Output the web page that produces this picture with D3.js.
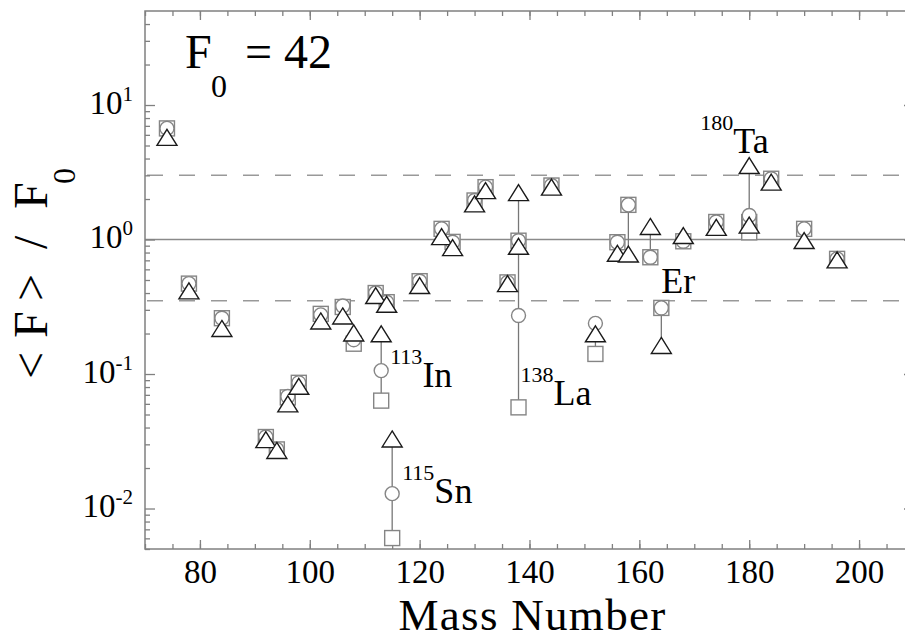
<!DOCTYPE html>
<html>
<head>
<meta charset="utf-8">
<script src="https://cdn.jsdelivr.net/npm/d3@7"></script>
<style>
  html, body { margin: 0; padding: 0; background: #fff; }
  svg { display: block; }
  text { font-family: "Liberation Serif", "Times New Roman", serif; fill: #000; }
</style>
</head>
<body>
<script>
// Abundance ratios per p-nucleus, three model sets
const masses = [74, 78, 84, 92, 94, 96, 98, 102, 106, 108, 112, 113, 114, 115, 120, 124, 126, 130, 132, 136, 138, 138, 144, 152, 156, 158, 162, 164, 168, 174, 180, 180, 184, 190, 196];
const nuclides = ["74Se", "78Kr", "84Sr", "92Mo", "94Mo", "96Ru", "98Ru", "102Pd", "106Cd", "108Cd", "112Sn", "113In", "114Sn", "115Sn", "120Te", "124Xe", "126Xe", "130Ba", "132Ba", "136Ce", "138Ce", "138La", "144Sm", "152Gd", "156Dy", "158Dy", "162Er", "164Er", "168Yb", "174Hf", "180W", "180Ta", "184Os", "190Pt", "196Hg"];
const squareVals = [6.7, 0.47, 0.26, 0.034, 0.0275, 0.067, 0.086, 0.28, 0.315, 0.168, 0.40, 0.0634, 0.342, 0.00603, 0.49, 1.2, 0.96, 1.95, 2.45, 0.48, 0.98, 0.0565, 2.52, 0.141, 0.955, 1.81, 0.738, 0.31, 0.97, 1.35, 1.35, 1.13, 2.83, 1.2, 0.718];
const circleVals = [6.7, 0.47, 0.26, 0.034, 0.0275, 0.068, 0.086, 0.275, 0.32, 0.18, 0.40, 0.106, 0.342, 0.0129, 0.49, 1.2, 0.955, 1.95, 2.45, 0.48, 0.98, 0.272, 2.52, 0.238, 0.955, 1.81, 0.738, 0.31, 0.97, 1.35, 1.35, 1.51, 2.83, 1.2, 0.718];
const triangleVals = [5.75, 0.415, 0.218, 0.0325, 0.027, 0.060, 0.081, 0.248, 0.27, 0.202, 0.383, 0.199, 0.33, 0.0329, 0.455, 1.05, 0.87, 1.84, 2.31, 0.47, 0.89, 2.23, 2.45, 0.199, 0.79, 0.78, 1.25, 0.163, 1.07, 1.23, 1.28, 3.55, 2.67, 0.983, 0.706];

// Nuclides whose three values are joined by a vertical line
const linked = ["113In", "115Sn", "138La", "152Gd", "158Dy", "162Er", "164Er", "180Ta"];

// Annotated nuclides: mass-number superscript and element symbol
const labelNuclides = ["113In", "115Sn", "138La", "164Er", "180Ta"];
const labelSuper = ["113", "115", "138", "", "180"];
const labelSymbol = ["In", "Sn", "La", "Er", "Ta"];

// Axis ticks
const xMajorTicks = [80, 100, 120, 140, 160, 180, 200];
const xMinorTicks = d3.range(70, 211, 5);
const yExponents = [-2, -1, 0, 1];
const refSolid = 1;
const refDashed = [3, 0.35];
const f0Value = "42";

const W = 905, H = 640;
const pL = 145, pR = 914, pT = 11, pB = 549;

const svg = d3.select("body").append("svg").attr("width", W).attr("height", H);

const x = d3.scaleLinear().domain([70, 210]).range([pL, pR]);
const y = d3.scaleLog().domain([0.005, 50]).range([pB, pT]);

const yMinor = [];
[0.001, 0.01, 0.1, 1, 10].forEach(dec => {
  for (let k = 2; k <= 9; k++) {
    const v = dec * k;
    if (v > 0.005 - 1e-9 && v < 50 - 1e-9) yMinor.push(v);
  }
});
const yMajor = yExponents.map(e => Math.pow(10, e));

const axisColor = "#808080";

// Reference lines
svg.append("line")
  .attr("x1", pL).attr("x2", pR)
  .attr("y1", y(refSolid)).attr("y2", y(refSolid))
  .attr("stroke", "#8a8a8a").attr("stroke-width", 1.5);
svg.selectAll("line.dash").data(refDashed).enter().append("line")
  .attr("class", "dash")
  .attr("x1", pL + 2).attr("x2", pR)
  .attr("y1", d => y(d)).attr("y2", d => y(d))
  .attr("stroke", "#999").attr("stroke-width", 1.5)
  .attr("stroke-dasharray", "16,16");

// Axes with inward ticks
function styleAxis(g) {
  g.select(".domain").remove();
  g.selectAll(".tick line").attr("stroke", axisColor).attr("stroke-width", 1.3);
}
svg.append("g").attr("transform", `translate(0,${pB})`)
  .call(d3.axisBottom(x).tickValues(xMinorTicks).tickSize(-5).tickFormat(""))
  .call(styleAxis);
svg.append("g").attr("transform", `translate(0,${pT})`)
  .call(d3.axisTop(x).tickValues(xMinorTicks).tickSize(-5).tickFormat(""))
  .call(styleAxis);
const xb = svg.append("g").attr("transform", `translate(0,${pB})`)
  .call(d3.axisBottom(x).tickValues(xMajorTicks).tickSize(-9).tickFormat(d3.format("d")))
  .call(styleAxis);
xb.selectAll(".tick text")
  .attr("y", 34).attr("dy", null)
  .attr("font-family", "Liberation Serif, serif")
  .attr("font-size", 33).attr("fill", "#000");
svg.append("g").attr("transform", `translate(0,${pT})`)
  .call(d3.axisTop(x).tickValues(xMajorTicks).tickSize(-9).tickFormat(""))
  .call(styleAxis);

svg.append("g").attr("transform", `translate(${pL},0)`)
  .call(d3.axisLeft(y).tickValues(yMinor).tickSize(-5).tickFormat(""))
  .call(styleAxis);
svg.append("g").attr("transform", `translate(${pR},0)`)
  .call(d3.axisRight(y).tickValues(yMinor).tickSize(-5).tickFormat(""))
  .call(styleAxis);
const yl = svg.append("g").attr("transform", `translate(${pL},0)`)
  .call(d3.axisLeft(y).tickValues(yMajor).tickSize(-10).tickFormat(""))
  .call(styleAxis);
svg.append("g").attr("transform", `translate(${pR},0)`)
  .call(d3.axisRight(y).tickValues(yMajor).tickSize(-10).tickFormat(""))
  .call(styleAxis);

// Decade labels 10^n
yl.selectAll(".tick").each(function(d) {
  const e = Math.round(Math.log10(d));
  const t = d3.select(this).append("text")
    .attr("x", -12).attr("y", 8)
    .attr("text-anchor", "end")
    .attr("font-family", "Liberation Serif, serif")
    .attr("fill", "#000");
  t.append("tspan").attr("font-size", 33).text("10");
  t.append("tspan").attr("font-size", 21).attr("dy", -13).text(String(e));
});

// Frame
svg.append("rect")
  .attr("x", pL).attr("y", pT)
  .attr("width", pR - pL).attr("height", pB - pT)
  .attr("fill", "none").attr("stroke", axisColor).attr("stroke-width", 1.5);

// Vertical links between model values of the same nuclide
const rows = masses.map((m, i) => ({
  m, name: nuclides[i], sq: squareVals[i], ci: circleVals[i], tr: triangleVals[i]
}));
svg.append("g").selectAll("line").data(rows.filter(r => linked.includes(r.name))).enter()
  .append("line")
  .attr("x1", d => x(d.m)).attr("x2", d => x(d.m))
  .attr("y1", d => y(Math.min(d.sq, d.ci, d.tr)))
  .attr("y2", d => y(Math.max(d.sq, d.ci, d.tr)))
  .attr("stroke", "#777").attr("stroke-width", 1.3);

// Squares
const sqSide = 15;
svg.append("g").selectAll("rect").data(rows).enter().append("rect")
  .attr("x", d => x(d.m) - sqSide / 2).attr("y", d => y(d.sq) - sqSide / 2)
  .attr("width", sqSide).attr("height", sqSide)
  .attr("fill", "#fff").attr("stroke", "#858585").attr("stroke-width", 1.4);

// Circles
svg.append("g").selectAll("circle").data(rows).enter().append("circle")
  .attr("cx", d => x(d.m)).attr("cy", d => y(d.ci)).attr("r", 7)
  .attr("fill", "#fff").attr("stroke", "#858585").attr("stroke-width", 1.4);

// Triangles
const tw = 20, th = 16;
svg.append("g").selectAll("path").data(rows).enter().append("path")
  .attr("d", d => {
    const cx = x(d.m), cy = y(d.tr);
    return `M${cx},${cy - th / 2}L${cx + tw / 2},${cy + th / 2}L${cx - tw / 2},${cy + th / 2}Z`;
  })
  .attr("fill", "#fff").attr("stroke", "#1a1a1a").attr("stroke-width", 1.4)
  .attr("stroke-linejoin", "miter");

// Nuclide annotations, placed beside their linked markers
const placement = {
  "113In": d => [x(d.m) + 9, y(d.ci) + 16],
  "115Sn": d => [x(d.m) + 10, y(d.ci) + 9],
  "138La": d => [x(d.m) + 2, y(d.ci) + 89],
  "164Er": d => [x(d.m) + 0, y(d.ci) - 15],
  "180Ta": d => [x(d.m) - 49, y(d.tr) - 13]
};
labelNuclides.forEach((n, i) => {
  const row = rows.find(r => r.name === n);
  const [px, py] = placement[n](row);
  const t = svg.append("text").attr("x", px).attr("y", py);
  if (labelSuper[i]) {
    t.append("tspan").attr("font-size", 22).attr("dy", -23).text(labelSuper[i]);
    t.append("tspan").attr("font-size", 36).attr("dy", 23).text(labelSymbol[i]);
  } else {
    t.append("tspan").attr("font-size", 36).text(labelSymbol[i]);
  }
});

// F0 caption
svg.append("text").attr("x", 185).attr("y", 68).attr("font-size", 48).text("F");
svg.append("text").attr("x", 211).attr("y", 97).attr("font-size", 32).text("0");
svg.append("text").attr("x", 245).attr("y", 68).attr("font-size", 48).text("= " + f0Value);

// Axis titles
svg.append("text")
  .attr("x", (pL + pR) / 2 + 3).attr("y", 630)
  .attr("text-anchor", "middle").attr("font-size", 45)
  .attr("letter-spacing", 1.3)
  .text("Mass Number");

const yt = svg.append("g").attr("transform", "rotate(-90)");
[["<", -379], ["F", -338], [">", -301], ["/", -249], ["F", -209]].forEach(([s, rx]) => {
  yt.append("text").attr("x", rx).attr("y", 47).attr("font-size", 48).text(s);
});
yt.append("text").attr("x", -184).attr("y", 75).attr("font-size", 32).text("0");
</script>
</body>
</html>
